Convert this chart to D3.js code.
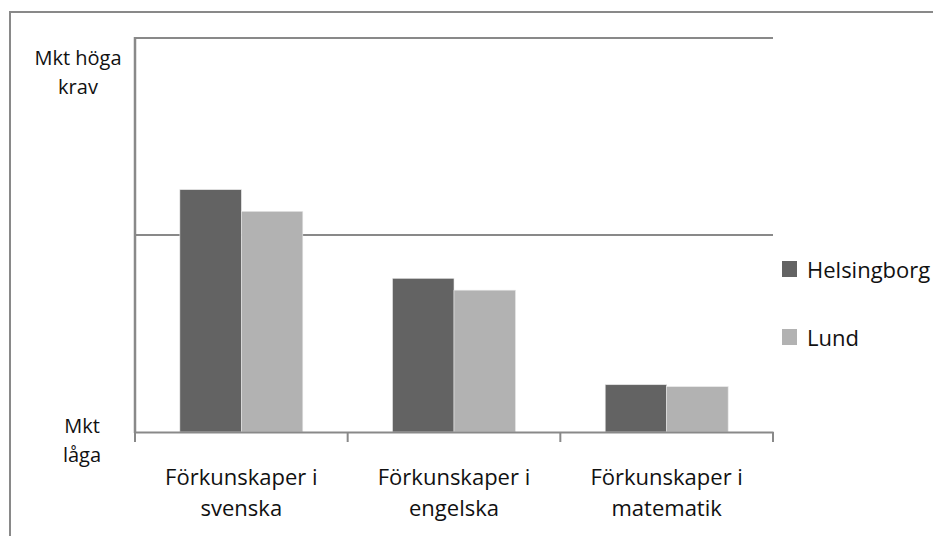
<!DOCTYPE html>
<html><head><meta charset="utf-8">
<script src="https://cdn.jsdelivr.net/npm/d3@7"></script>
<style>body{margin:0;background:#fff}svg{display:block}</style>
</head><body>
<script>
const categories = [["Förkunskaper i","svenska"],["Förkunskaper i","engelska"],["Förkunskaper i","matematik"]];
const seriesNames = ["Helsingborg","Lund"];
const helsingborg = [2.23, 1.78, 1.24];
const lund = [2.12, 1.72, 1.23];
const yTicks = [1, 2, 3];
const yLabels = [["Mkt","låga"],["Mkt höga","krav"]];
const colors = ["#636363","#b2b2b2"];

(function(){
const W = 933, H = 536;
const font = "'Open Sans', 'Noto Sans', sans-serif";
const svg = d3.select("body").append("svg").attr("width", W).attr("height", H);

// outer frame
svg.append("rect").attr("x",10).attr("y",12).attr("width",960).attr("height",560)
  .attr("fill","none").attr("stroke","#898989").attr("stroke-width",2);

const pLeft = 135, pRight = 773, pTop = 38, pBottom = 432;
const x0 = d3.scaleBand().domain(d3.range(categories.length)).range([pLeft,pRight]).padding(0);
const bw = x0.bandwidth();
const x1 = d3.scaleBand().domain(seriesNames).range([bw*0.211, bw*0.789]).padding(0);
const y = d3.scaleLinear().domain([1,3]).range([pBottom, pTop]);

// gridlines
svg.append("g").selectAll("line").data(yTicks.slice(1)).join("line")
  .attr("x1",pLeft).attr("x2",pRight).attr("y1",d=>y(d)).attr("y2",d=>y(d))
  .attr("stroke","#898989").attr("stroke-width",2);

// bars
const data = categories.map((c,i)=>({i, vals:[helsingborg[i], lund[i]]}));
const g = svg.append("g").selectAll("g").data(data).join("g")
  .attr("transform", d=>`translate(${x0(d.i)},0)`);
g.selectAll("rect").data(d=>d.vals.map((v,k)=>({v,k}))).join("rect")
  .attr("x", d=>x1(seriesNames[d.k])).attr("width", x1.bandwidth())
  .attr("y", d=>y(d.v)).attr("height", d=>y(1)-y(d.v))
  .attr("fill", d=>colors[d.k]).attr("stroke","#e6e6e6").attr("stroke-width",0.6);

// axes
const xAxis = d3.axisBottom(x0).tickSize(0).tickFormat("");
svg.append("g").attr("transform",`translate(0,${pBottom})`).call(xAxis)
  .call(s=>s.select(".domain").attr("stroke","#898989").attr("stroke-width",2));
svg.append("g").selectAll("line").data(d3.range(categories.length+1)).join("line")
  .attr("x1",d=>d<categories.length?x0(d):pRight).attr("x2",d=>d<categories.length?x0(d):pRight)
  .attr("y1",pBottom).attr("y2",pBottom+10).attr("stroke","#898989").attr("stroke-width",2);
svg.append("line").attr("x1",pLeft).attr("x2",pLeft).attr("y1",pTop-1).attr("y2",pBottom+1)
  .attr("stroke","#898989").attr("stroke-width",2.5);

// category labels
const cl = svg.append("g").selectAll("text").data(categories).join("text")
  .attr("text-anchor","middle").attr("font-family",font).attr("font-size",22).attr("fill","#111")
  .attr("transform",(d,i)=>`translate(${x0(i)+bw/2},485)`);
cl.selectAll("tspan").data(d=>d).join("tspan").attr("x",0).attr("dy",(d,i)=>i?31:0).text(d=>d);

// y labels
const yl = svg.append("g").selectAll("text").data(yLabels).join("text")
  .attr("text-anchor","middle").attr("font-family",font).attr("font-size",20).attr("fill","#111")
  .attr("transform",(d,i)=>i?`translate(78,65)`:`translate(82,433)`);
yl.selectAll("tspan").data(d=>d).join("tspan").attr("x",0).attr("dy",(d,i)=>i?29:0).text(d=>d);

// legend
const lg = svg.append("g").selectAll("g").data(seriesNames).join("g")
  .attr("transform",(d,i)=>`translate(782,${261+i*68})`);
lg.append("rect").attr("width",15).attr("height",16).attr("fill",(d,i)=>colors[i]);
lg.append("text").attr("x",25).attr("y",17).attr("font-family",font).attr("font-size",22)
  .attr("fill","#111").text(d=>d);
})();
</script>
</body></html>
